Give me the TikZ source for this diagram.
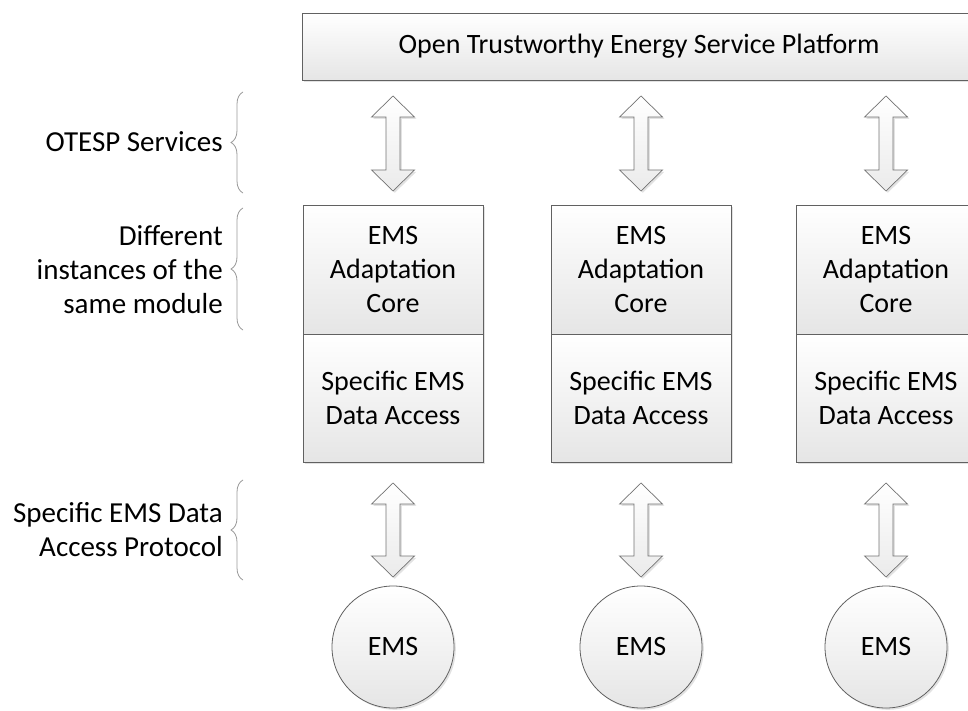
\documentclass[tikz,border=0pt]{standalone}
\usepackage{fontspec}
\setmainfont{Carlito}
\usetikzlibrary{shadows,decorations.pathreplacing,calc}
\newcommand\dblarr[2]{%
  \path[arrsty] let \p1=(#1), \p2=(#2) in
  (\x1,\y1) -- (\x1+21.5pt,\y1-21pt) -- (\x1+7pt,\y1-21pt) -- (\x1+7pt,\y2+21pt)
  -- (\x1+21.5pt,\y2+21pt) -- (\x1,\y2) -- (\x1-21.5pt,\y2+21pt) -- (\x1-7pt,\y2+21pt)
  -- (\x1-7pt,\y1-21pt) -- (\x1-21.5pt,\y1-21pt) -- cycle;}
\begin{document}
\begin{tikzpicture}[x=1pt,y=-1pt,
  shad/.style={drop shadow={shadow xshift=1.8pt, shadow yshift=-1.8pt, opacity=0.25, fill=black!45}},
  txt/.style={font=\fontsize{28}{34}\selectfont},
  boxsty/.style={txt, draw=black!62, line width=0.8pt, rectangle, top color=white, bottom color=black!10,
    minimum width=180pt, inner sep=0pt, align=center, shad},
  arrsty/.style={draw=black!55, line width=0.7pt, top color=white, bottom color=black!8, shad},
  lab/.style={font=\fontsize{29}{34}\selectfont, align=right, inner sep=0pt, anchor=east},
  bracesty/.style={draw=black!40, line width=0.8pt, decorate, decoration={brace, amplitude=12pt}},
  emssty/.style={txt, circle, draw=black!62, line width=0.8pt, top color=white, bottom color=black!10,
    minimum size=122pt, inner sep=0pt, shad}
]
\useasboundingbox (0,0) rectangle (968,711);

% top platform
\node[boxsty, minimum width=674pt, minimum height=67pt] (otesp) at (639,46.5) {Open Trustworthy Energy Service Platform};

% module boxes
\foreach \i/\x in {1/393, 2/641, 3/886}{
  \node[boxsty, minimum height=129pt] (core\i) at (\x,269.5) {EMS\\Adaptation\\Core};
  \node[boxsty, minimum height=128pt] (acc\i) at (\x,398) {Specific EMS\\Data Access};
  \node[emssty] (ems\i) at (\x,647) {EMS};
  \coordinate (ut\i) at (\x,96);
  \coordinate (ub\i) at (\x,191);
  \coordinate (lt\i) at (\x,483);
  \coordinate (lb\i) at (\x,577);
  \dblarr{ut\i}{ub\i}
  \dblarr{lt\i}{lb\i}
}

% left labels
\node[lab] (l1) at (223,142) {OTESP Services};
\node[lab] (l2) at (223,270) {Different\\instances of the\\same module};
\node[lab] (l3) at (223,530) {Specific EMS Data\\Access Protocol};

% braces
\coordinate (b1s) at (243,193); \coordinate (b1e) at (243,92);
\coordinate (b2s) at (243,330); \coordinate (b2e) at (243,208);
\coordinate (b3s) at (243,580); \coordinate (b3e) at (243,480);
\draw[bracesty] (b1s) -- (b1e);
\draw[bracesty] (b2s) -- (b2e);
\draw[bracesty] (b3s) -- (b3e);
\end{tikzpicture}
\end{document}
